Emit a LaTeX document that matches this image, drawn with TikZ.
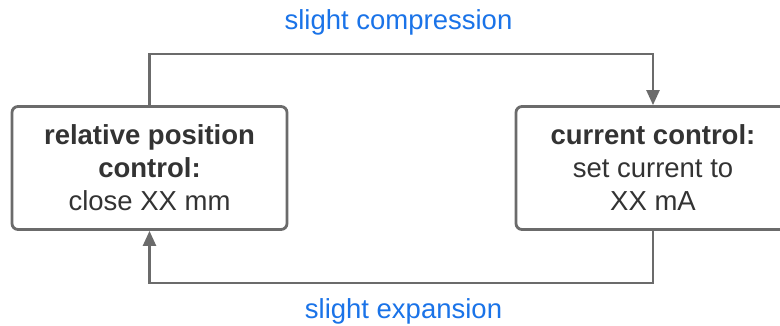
\documentclass[tikz,border=0pt]{standalone}
\usepackage{fontspec}
\setmainfont{Liberation Sans}
\usetikzlibrary{arrows.meta}
\definecolor{linegray}{HTML}{6B6B6B}
\definecolor{txtgray}{HTML}{333333}
\definecolor{lblblue}{HTML}{1A73E8}
\begin{document}
\begin{tikzpicture}[x=1pt,y=-1pt,
  box/.style={draw=linegray, line width=2.8pt, rounded corners=6pt, fill=white,
    align=center, text=txtgray, font=\fontsize{27.5}{33}\selectfont, inner sep=0pt},
  conn/.style={draw=linegray, line width=2.4pt, -{Triangle[width=13pt,length=15pt]}},
  lbl/.style={text=lblblue, font=\fontsize{27.5}{33}\selectfont, inner sep=0pt}]
\useasboundingbox (0,0) rectangle (780,326);
\begin{scope}
\clip (0,0) rectangle (780,326);
\node[box, minimum width=275pt, minimum height=123pt] (L) at (149.5,168)
  {\textbf{relative position}\\\textbf{control:}\\close XX mm};
\node[box, minimum width=274pt, minimum height=123pt] (R) at (653,168)
  {\textbf{current control:}\\set current to\\XX mA};
\end{scope}
\draw[conn] (L.north) -- ++(0,-51) -| (R.north);
\draw[conn] (R.south) -- ++(0,52) -| (L.south);
\node[lbl] (top) at (398.5,22) {slight compression};
\node[lbl] (bot) at (403.5,311) {slight expansion};
\end{tikzpicture}
\end{document}
